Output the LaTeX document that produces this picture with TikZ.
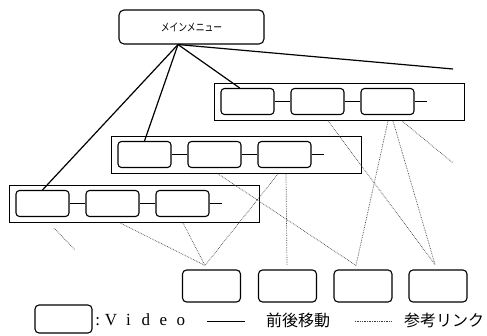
\documentclass[tikz,border=0pt]{standalone}
\usepackage{fontspec}
\setmainfont{Liberation Serif}
\newfontfamily\jp{Noto Sans CJK JP}
\usetikzlibrary{calc}
\begin{document}
\begin{tikzpicture}[x=1pt,y=-1pt,
  vbox/.style={draw,rounded corners=3.5pt,line width=1.1pt,minimum width=53pt,minimum height=26pt,inner sep=0pt},
  bbox/.style={draw,rounded corners=4pt,line width=1.1pt,minimum width=58pt,minimum height=32pt,inner sep=0pt},
  rowframe/.style={draw,line width=0.9pt,minimum width=250pt,minimum height=37pt,inner sep=0pt},
  nav/.style={line width=0.9pt},
  menuline/.style={line width=1.2pt},
  refline/.style={densely dotted,line width=0.7pt,black!75},
  jplabel/.style={inner sep=0pt,font=\jp\fontsize{16}{16}\selectfont},
]
\useasboundingbox (0,0) rectangle (487,336);

% main menu
\node[draw,rounded corners=5pt,line width=1.1pt,minimum width=145pt,minimum height=34pt,inner sep=0pt]
  (menu) at (191.5,27) {\scalebox{0.8}[1]{\jp\fontsize{11}{11}\selectfont メインメニュー}};

% rows of videos
\foreach \r/\ox/\oy in {1/214/83, 2/111/136, 3/9/185} {
  \node[rowframe,anchor=north west] (f\r) at (\ox,\oy) {};
  \node[vbox] (r\r-1) at (\ox+33.5,\oy+18.5) {};
  \node[vbox] (r\r-2) at (\ox+103.5,\oy+18.5) {};
  \node[vbox] (r\r-3) at (\ox+173.5,\oy+18.5) {};
  \coordinate (t\r) at (\ox+213,\oy+18.5);
  \draw[nav] (r\r-1) -- (r\r-2);
  \draw[nav] (r\r-2) -- (r\r-3);
  \draw[nav] (r\r-3) -- (t\r);
}

% bottom boxes
\node[bbox] (b1) at (211.5,286) {};
\node[bbox] (b2) at (287.5,286) {};
\node[bbox] (b3) at (363,286) {};
\node[bbox] (b4) at (438,286) {};

% menu lines
\coordinate (mo) at ($(menu.south)+(-13.5,0)$);
\coordinate (me) at (453,69);
\draw[menuline] (mo) -- (r3-1.north);
\draw[menuline] (mo) -- (r2-1.north);
\draw[menuline] (mo) -- (r1-1.120);
\draw[menuline] (mo) -- (me);

% convergence points above bottom boxes
\coordinate (c1) at ($(b1.north)+(-6.5,-4)$);
\coordinate (c2) at ($(b2.north)+(-0.5,-4)$);
\coordinate (c3) at ($(b3.north)+(-7,-4)$);
\coordinate (c4) at ($(b4.north)+(-3,-5)$);

% reference links
\draw[refline] ($(f1.south west)+(114,0)$) -- (c4);
\draw[refline] ($(f1.south west)+(174,0)$) -- (c3);
\draw[refline] ($(f1.south west)+(179,0)$) -- (c4);
\coordinate (fe1) at (453,163);
\draw[refline] ($(f1.south west)+(188,0)$) -- (fe1);

\draw[refline] ($(f2.south west)+(107,0)$) -- (c3);
\draw[refline] ($(f2.south west)+(167,0)$) -- (c1);
\draw[refline] ($(f2.south west)+(175,0)$) -- (c2);

\draw[refline] ($(f3.south west)+(111,0)$) -- (c1);
\draw[refline] ($(f3.south west)+(174,0)$) -- (c1);
\coordinate (fs3) at (54,228);
\coordinate (fe3) at (75,250);
\draw[refline] (fs3) -- (fe3);

% legend
\node[draw,rounded corners=4pt,line width=1.1pt,minimum width=57pt,minimum height=28pt,inner sep=0pt] (lbox) at (63.5,319) {};
\node[inner sep=0pt,anchor=west,font=\fontsize{17}{17}\selectfont] (lvid) at (93,320)
  {\makebox[9pt]{:}\makebox[17.5pt]{V}\makebox[17.5pt]{i}\makebox[17.5pt]{d}\makebox[17.5pt]{e}\makebox[17.5pt]{o}};
\coordinate (ls1) at (207,321);
\coordinate (ls2) at (245,321);
\draw[nav] (ls1) -- (ls2);
\node[jplabel] (lnav) at (298,320) {前後移動};
\coordinate (ld1) at (355,321);
\coordinate (ld2) at (391,321);
\draw[refline] (ld1) -- (ld2);
\node[jplabel] (lref) at (444,320) {参考リンク};
\end{tikzpicture}
\end{document}
